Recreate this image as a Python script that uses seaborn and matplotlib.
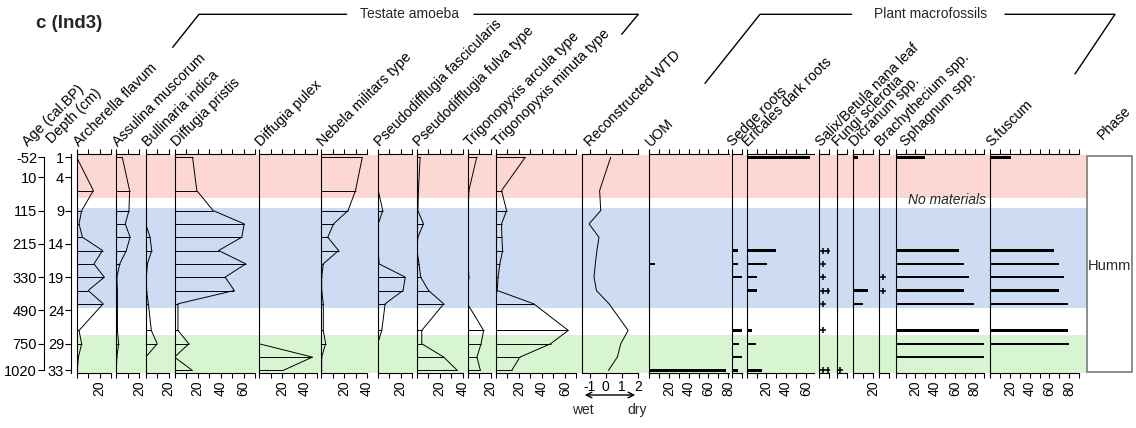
import matplotlib
matplotlib.use("Agg")
import numpy as np
import matplotlib.pyplot as plt
import seaborn as sns
from matplotlib.patches import Rectangle

# ---------------------------------------------------------------- data
depth = [1, 6, 9, 11, 13, 15, 17, 19, 21, 23, 27, 29, 31, 33]
depth_ticks = [1, 4, 9, 14, 19, 24, 29, 33]
age_ticks = ["-52", "10", "115", "215", "330", "490", "750", "1020"]

# testate amoebae (%)
archerella = [0, 14.5, 4.3, 2, 5, 22.5, 15, 24, 10, 23, 2, 4.3, 1.5, 0.5]
assulina = [5.2, 11.6, 11, 7.8, 12, 8.7, 3, 0.5, 1, 1, 1, 2, 0.5, 0]
bullinaria = [0, 0, 0, 0, 3.8, 5.2, 1.5, 0.6, 0.8, 2.3, 4.9, 10, 0, 0]
difflugia_pristis = [15.7, 19.4, 33.6, 60.6, 58.5, 38.3, 62, 44, 52, 3, 3, 12.5, 0, 15.5]
difflugia_pulex = [0, 0, 0, 0, 0, 0, 0, 0, 0, 0, 0, 0, 46.5, 21]
nebela = [35.9, 30, 23.5, 10.9, 5.9, 15.3, 2, 0.6, 0.6, 2, 2, 4, 0.6, 0.6]
pseudo_fasc = [0, 0.5, 4.4, 0.5, 0, 0.5, 1.2, 24, 22, 6.5, 3.5, 0, 0, 0]
pseudo_fulva = [3, 1.5, 1, 5.9, 1, 0.3, 2, 3.5, 10.3, 23.5, 4.4, 4.4, 23.5, 35.3]
trig_arcula = [8, 1.2, 0.6, 0.6, 0, 0.6, 0.6, 1.2, 0, 0, 14, 11.8, 8.2, 11.2]
trig_minuta = [25.6, 5, 9.4, 5, 5.3, 5.9, 3.5, 2, 1.2, 33, 63, 47.6, 21, 13.8]

testate_names = ["Archerella flavum", "Assulina muscorum", "Bullinaria indica",
                 "Diffugia pristis", "Diffugia pulex", "Nebela militars type",
                 "Pseudodifflugia fascicularis", "Pseudodifflugia fulva type",
                 "Trigonopyxis arcula type", "Trigonopyxis minuta type"]
testate_values = [archerella, assulina, bullinaria, difflugia_pristis, difflugia_pulex,
                  nebela, pseudo_fasc, pseudo_fulva, trig_arcula, trig_minuta]
testate_max = [30, 20, 20, 70, 50, 40, 30, 40, 20, 70]
testate_left = [76.7, 116.3, 145.7, 174.5, 259, 321, 377.7, 416.7, 467.5, 495.8]

# reconstructed water-table depth
wtd = [0.31, -0.38, -0.31, -1.04, -0.42, -0.55, -0.65, -0.73, -0.58, 0.21, 1.4, 0.94, 0.73, 0.17]
wtd_ticks = [-1, 0, 1, 2]

# plant macrofossils (%; counts of "+" for presence-only taxa)
uom = [0, 0, 0, 0, 0, 0, 6, 0, 0, 0, 0, 0, 0, 78]
sedge = [0, 0, 0, 0, 0, 6, 6, 10, 0, 0, 10, 7, 10, 6]
ericales = [64.6, 0, 0, 0, 0, 30, 20.4, 10.2, 10.2, 0, 5.1, 9.5, 0, 15.3]
salix = [0, 0, 0, 0, 0, 2, 1, 1, 2, 1, 1, 0, 0, 2]
fungi = [0, 0, 0, 0, 0, 0, 0, 0, 0, 0, 0, 0, 0, 1]
dicranum = [5, 0, 0, 0, 0, 0, 0, 0, 15, 9.4, 0, 0, 0, 0]
brachy = [0, 0, 0, 0, 0, 0, 0, 1, 1, 0, 0, 0, 0, 0]
sphagnum = [30, 0, 0, 0, 0, 64.7, 69.5, 74.9, 69.5, 79.7, 84.4, 89.5, 89.5, 0]
sfuscum = [21, 0, 0, 0, 0, 64.4, 69.5, 74.6, 69.5, 79.3, 78.6, 80.3, 0, 0]

plant_names = ["UOM", "Sedge roots", "Ericales dark roots", "Salix/Betula nana leaf",
               "Fungi sclerotia", "Dicranum spp.", "Brachythecium spp.",
               "Sphagnum spp.", "S.fuscum"]
plant_values = [uom, sedge, ericales, salix, fungi, dicranum, brachy, sphagnum, sfuscum]
plant_kind = ["bar", "bar", "bar", "plus", "plus", "bar", "plus", "bar", "bar"]
plant_max = [80.5, 10, 68, 10, 10, 20, 10, 90, 90]
plant_left = [649.3, 731.7, 746.7, 819.3, 836.7, 853.3, 879.3, 895.7, 990.3]

zones = [(0.0, 7.16, "#FDD8D3"), (8.66, 23.6, "#CDDBF3"), (27.67, 40.0, "#D8F5D1")]
phase_label = "Humm"

# ---------------------------------------------------------------- style
sns.set_theme(style="ticks")
plt.rcParams['font.family'] = ['Liberation Sans', 'DejaVu Sans']
plt.rcParams['axes.linewidth'] = 0.8

W, H = 1136, 428
fig = plt.figure(figsize=(W / 100, H / 100), dpi=100)
TOP, BOT = 154.5, 373.3
PX_PER_CM = 6.66


def to_depth(py):
    return 1 + (py - 157.3) / PX_PER_CM


YLIM = (to_depth(BOT), to_depth(TOP))


def add_axes_px(x0, x1, **kw):
    return fig.add_axes([x0 / W, 1 - BOT / H, (x1 - x0) / W, (BOT - TOP) / H], **kw)


def header(x, text, y=147):
    fig.text(x / W, 1 - y / H, text, rotation=45, rotation_mode='anchor',
             ha='left', va='baseline', fontsize=10.3, color='black')


def style_panel(ax, xmin, xmax, ticks, labels, rot=90):
    ax.set_facecolor('none')
    ax.set_xlim(xmin, xmax)
    ax.set_ylim(*YLIM)
    ax.spines['right'].set_visible(False)
    for s in ['left', 'top', 'bottom']:
        ax.spines[s].set_visible(True)
        ax.spines[s].set_color('black')
        ax.spines[s].set_linewidth(0.8)
    ax.set_xticks(ticks)
    ax.set_xticklabels(labels)
    ax.tick_params(axis='x', top=True, bottom=True, direction='out', length=3.5,
                   width=0.8, color='black', labelsize=10, labelrotation=rot, pad=1.5,
                   labelcolor='black')
    ax.set_yticks([])
    ax.set_xlabel('')
    ax.set_ylabel('')
    ax.grid(False)


def pct_ticks(xmax):
    t = list(np.arange(0, xmax + 0.01, 10))
    lab = [str(int(v)) if (v > 0 and int(v) % 20 == 0) else '' for v in t]
    return t, lab


# background zones spanning all panels
bg = add_axes_px(76.7, 1086.7, zorder=0)
bg.set_xlim(0, 1)
bg.set_ylim(*YLIM)
bg.axis('off')
for lo, hi, c in zones:
    bg.axhspan(lo, hi, color=c, lw=0)

# age and depth scales
for xpos, labels, bounds in [(44, age_ticks, (1, 33)), (71, [str(d) for d in depth_ticks], None)]:
    a = add_axes_px(xpos, xpos + 2, zorder=2)
    a.set_facecolor('none')
    a.set_ylim(*YLIM)
    for s in ['right', 'top', 'bottom']:
        a.spines[s].set_visible(False)
    a.spines['left'].set_color('black')
    if bounds:
        a.spines['left'].set_bounds(*bounds)
    a.set_xticks([])
    a.set_yticks(depth_ticks)
    a.set_yticklabels(labels)
    a.tick_params(axis='y', direction='out', length=4, width=0.8, color='black',
                  labelsize=10.5, pad=1, labelcolor='black')
header(27.5, "Age (cal.BP)", 146.5)
header(51.5, "Depth (cm)", 144)

# testate amoeba profiles
TA_SCALE = 1.15
for name, vals, xmax, x0 in zip(testate_names, testate_values, testate_max, testate_left):
    ax = add_axes_px(x0, x0 + xmax * TA_SCALE, zorder=2)
    sns.lineplot(x=vals, y=depth, orient='y', estimator=None, sort=True,
                 color='black', linewidth=0.7, ax=ax)
    ax.hlines(depth, 0, vals, color='black', lw=0.7)
    t, lab = pct_ticks(xmax)
    style_panel(ax, 0, xmax, t, lab)
    header(x0 + 2, name)

# reconstructed WTD
x0 = 581.7
ax = add_axes_px(x0, x0 + 3.5 * 16, zorder=2)
sns.lineplot(x=wtd, y=depth, orient='y', estimator=None, sort=True,
             color='black', linewidth=0.7, ax=ax)
style_panel(ax, -1.5, 2, wtd_ticks, [str(v) for v in wtd_ticks], rot=0)
header(x0 + 8, "Reconstructed WTD")

# plant macrofossils
PM_SCALE = 0.985
for name, vals, kind, xmax, x0 in zip(plant_names, plant_values, plant_kind, plant_max, plant_left):
    ax = add_axes_px(x0, x0 + xmax * PM_SCALE, zorder=2)
    d = np.array(depth, dtype=float)
    v = np.array(vals, dtype=float)
    if kind == "bar":
        m = v > 0
        ax.barh(d[m], v[m], height=0.38, color='black', lw=0)
    else:
        for k in (1, 2):
            m = v >= k
            ax.plot(np.full(m.sum(), 3.5 + 5.6 * (k - 1)), d[m], ls='none', marker='+',
                    ms=5, mew=1.1, color='black')
    if xmax >= 20:
        t, lab = pct_ticks(xmax)
    else:
        t, lab = [0, 10], ['', '']
    style_panel(ax, 0, xmax, t, lab)
    header(x0 + (10 if name.startswith("Sphagnum") else 1.5), name)

# overlay for annotations
ov = fig.add_axes([0, 0, 1, 1], zorder=10)
ov.set_xlim(0, W)
ov.set_ylim(H, 0)
ov.axis('off')
ov.patch.set_alpha(0)

ov.text(35.7, 23, "c (Ind3)", fontsize=13.5, fontweight='bold', ha='left', va='center')

lk = dict(color='black', lw=1)
ov.plot([172.7, 199, 346.7], [47.3, 14.3, 14.3], **lk)
ov.plot([474, 638.3, 621.7], [14.3, 14.3, 34.3], **lk)
ov.text(410, 14.3, "Testate amoeba", fontsize=10, ha='center', va='center')
ov.plot([705, 760, 851.7], [83.3, 14.3, 14.3], **lk)
ov.plot([1005, 1115, 1075], [14.3, 14.3, 74], **lk)
ov.text(930.5, 14.3, "Plant macrofossils", fontsize=10, ha='center', va='center')

ov.text(947.5, 199.5, "No materials", fontsize=10, style='italic', ha='center', va='center')

# wet/dry arrow under WTD
ov.annotate('', xy=(582, 395), xytext=(638, 395),
            arrowprops=dict(arrowstyle='<->', color='black', lw=1, mutation_scale=10))
ov.text(583, 410, "wet", fontsize=10, ha='center', va='center')
ov.text(637, 410, "dry", fontsize=10, ha='center', va='center')

# phase column
ov.add_patch(Rectangle((1086.7, 155.7), 45, 216.3, facecolor='white',
                       edgecolor='#7a7a7a', lw=1.2))
ov.text(1109.5, 266, phase_label, fontsize=10.5, ha='center', va='center')
header(1103, "Phase", 140)

fig.savefig("out.png", dpi=100)
